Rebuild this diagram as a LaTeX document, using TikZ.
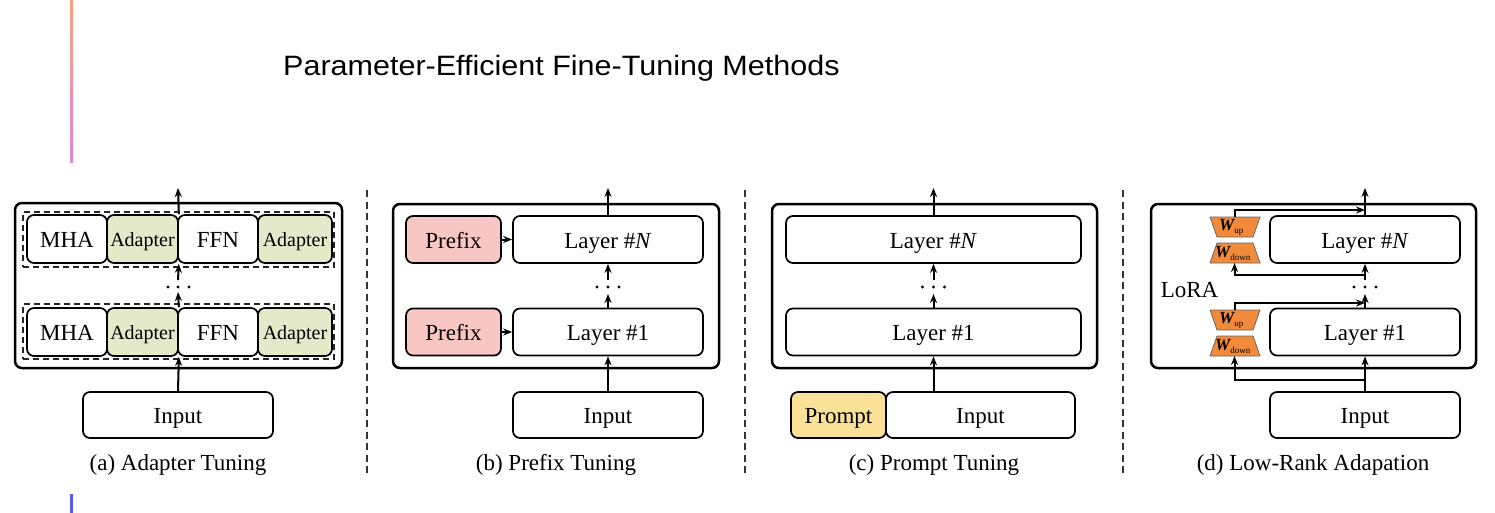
\documentclass[tikz,border=0pt]{standalone}
\usepackage{graphicx}
\usepackage{fontspec}
\setmainfont{Liberation Serif}
\newfontfamily\titlefont{Liberation Sans}
\usetikzlibrary{arrows.meta}
\definecolor{adapterc}{RGB}{227,233,201}
\definecolor{prefixc}{RGB}{248,198,195}
\definecolor{promptc}{RGB}{251,225,152}
\definecolor{loraC}{RGB}{242,138,60}
\definecolor{barTop}{RGB}{246,162,120}
\definecolor{barBot}{RGB}{218,138,214}
\definecolor{barBlue}{RGB}{92,92,245}
\begin{document}
\begin{tikzpicture}[x=1pt,y=-1pt,
  blk/.style={draw=black, line width=1.7pt, rounded corners=7pt, inner sep=0pt, minimum height=47pt, font=\fontsize{23}{26}\selectfont, text height=17pt, text depth=0pt, anchor=center, fill=white},
  smalltxt/.style={font=\fontsize{20}{22}\selectfont, text height=15pt},
  outerbox/.style={draw=black, line width=2.5pt, rounded corners=7pt, inner sep=0pt, minimum height=164pt, fill=white},
  dbox/.style={draw=black!85, line width=1.7pt, dash pattern=on 6pt off 4pt, inner sep=0pt},
  arr/.style={line width=2pt, -{Stealth[length=9pt,width=7pt]}},
  sepline/.style={draw=black!80, line width=2pt, dash pattern=on 7pt off 4.5pt},
  captxt/.style={font=\fontsize{23}{26}\selectfont, anchor=base, inner sep=0pt},
  wbox/.style={draw=black!60, line width=0.8pt, fill=loraC},
  wtxt/.style={font=\fontsize{17}{17}\selectfont\bfseries\itshape, inner sep=0pt, anchor=west},
  dotc/.style={fill=black}
]
\useasboundingbox (0,0) rectangle (1495,513);
% side bars
\shade[top color=barTop, bottom color=barBot] (70,0) rectangle (73,163);
\fill[barBlue] (70,494) rectangle (73,513);
% title
\node[anchor=base west, inner sep=0pt] (title) at (283,76) {\titlefont\fontsize{28}{30}\selectfont\scalebox{1.09}[1]{Parameter-Efficient Fine-Tuning Methods}};
% separators
\coordinate (s1t) at (367,190); \coordinate (s1b) at (367,475);
\coordinate (s2t) at (745,190); \coordinate (s2b) at (745,475);
\coordinate (s3t) at (1123,190); \coordinate (s3b) at (1123,475);
\draw[sepline] (s1t) -- (s1b);
\draw[sepline] (s2t) -- (s2b);
\draw[sepline] (s3t) -- (s3b);

% ================= (a) Adapter Tuning
\node[outerbox, minimum width=327pt, minimum height=165pt] (aO) at (178.5,285.5) {};
\node[dbox, minimum width=311pt, minimum height=55pt] (aD2) at (178.5,239.5) {};
\node[dbox, minimum width=311pt, minimum height=55pt] (aD1) at (178.5,331.5) {};
\node[blk, minimum width=80pt, minimum height=48pt] (aM2) at (67,239) {MHA};
\node[blk, minimum width=71pt, minimum height=48pt, fill=adapterc, smalltxt] (aA2) at (142.5,239) {Adapter};
\node[blk, minimum width=80pt, minimum height=48pt] (aF2) at (218,239) {FFN};
\node[blk, minimum width=74pt, minimum height=48pt, fill=adapterc, smalltxt] (aB2) at (295,239) {Adapter};
\node[blk, minimum width=80pt, minimum height=48pt] (aM1) at (67,332) {MHA};
\node[blk, minimum width=71pt, minimum height=48pt, fill=adapterc, smalltxt] (aA1) at (142.5,332) {Adapter};
\node[blk, minimum width=80pt, minimum height=48pt] (aF1) at (218,332) {FFN};
\node[blk, minimum width=74pt, minimum height=48pt, fill=adapterc, smalltxt] (aB1) at (295,332) {Adapter};
\node[blk, minimum width=190pt, minimum height=46pt] (aIn) at (178,415) {Input};
\coordinate (aU1) at (178,292);
\coordinate (aU2) at (178,280);
\coordinate (aTop) at (178,188);
\draw[arr] (aIn.north) -- (aA1.south east);
\draw[arr] (aA1.north east) -- (aU1);
\draw[arr] (aU2) -- (aA2.south east);
\draw[arr] (aA2.north east) -- (aTop);
\fill[dotc] (168,287) circle (1.6pt) (178,287) circle (1.6pt) (189,287) circle (1.6pt);
\node[captxt] (aCap) at (178,470) {(a) Adapter Tuning};

% ================= (b) Prefix Tuning
\node[outerbox, minimum width=326pt] (bO) at (556,286) {};
\node[blk, minimum width=95pt, fill=prefixc] (bP2) at (453.5,239.5) {Prefix};
\node[blk, minimum width=95pt, fill=prefixc] (bP1) at (453.5,332) {Prefix};
\node[blk, minimum width=190pt] (bL2) at (608,239.5) {Layer \#\textit{N}};
\node[blk, minimum width=190pt] (bL1) at (608,332) {Layer \#1};
\node[blk, minimum width=190pt, minimum height=46pt] (bIn) at (608,415) {Input};
\coordinate (bU1) at (608,294);
\coordinate (bU2) at (608,280);
\coordinate (bTop) at (608,188);
\draw[arr] (bP2.east) -- (bL2.west);
\draw[arr] (bP1.east) -- (bL1.west);
\draw[arr] (bIn.north) -- (bL1.south);
\draw[arr] (bL1.north) -- (bU1);
\draw[arr] (bU2) -- (bL2.south);
\draw[arr] (bL2.north) -- (bTop);
\fill[dotc] (597,287) circle (1.6pt) (608,287) circle (1.6pt) (619,287) circle (1.6pt);
\node[captxt] (bCap) at (556,470) {(b) Prefix Tuning};

% ================= (c) Prompt Tuning
\node[outerbox, minimum width=325pt] (cO) at (934.5,286) {};
\node[blk, minimum width=295pt] (cL2) at (933.5,239.5) {Layer \#\textit{N}};
\node[blk, minimum width=295pt] (cL1) at (933.5,332) {Layer \#1};
\node[blk, minimum width=95pt, minimum height=46pt, fill=promptc] (cPr) at (838.5,415) {Prompt};
\node[blk, minimum width=189pt, minimum height=46pt] (cIn) at (980.5,415) {Input};
\coordinate (cB) at (933.5,392);
\coordinate (cU1) at (933.5,294);
\coordinate (cU2) at (933.5,280);
\coordinate (cTop) at (933.5,188);
\draw[arr] (cB) -- (cL1.south);
\draw[arr] (cL1.north) -- (cU1);
\draw[arr] (cU2) -- (cL2.south);
\draw[arr] (cL2.north) -- (cTop);
\fill[dotc] (922.5,287) circle (1.6pt) (933.5,287) circle (1.6pt) (944.5,287) circle (1.6pt);
\node[captxt] (cCap) at (934,470) {(c) Prompt Tuning};

% ================= (d) Low-Rank Adaptation
\node[outerbox, minimum width=325pt] (dO) at (1313.5,286) {};
\node[blk, minimum width=190pt] (dL2) at (1365,239.5) {Layer \#\textit{N}};
\node[blk, minimum width=190pt] (dL1) at (1365,332) {Layer \#1};
\node[blk, minimum width=190pt, minimum height=46pt] (dIn) at (1365,415) {Input};
\node[font=\fontsize{23}{26}\selectfont, inner sep=0pt] (lora) at (1189.5,290) {LoRA};
% trapezoids (top pair)
\draw[wbox] (1210,217) -- (1260,217) -- (1253,237) -- (1217,237) -- cycle;
\draw[wbox] (1217,243) -- (1253,243) -- (1260,263) -- (1210,263) -- cycle;
% trapezoids (bottom pair)
\draw[wbox] (1210,310) -- (1260,310) -- (1253,330) -- (1217,330) -- cycle;
\draw[wbox] (1217,336) -- (1253,336) -- (1260,356) -- (1210,356) -- cycle;
\node[wtxt] (wu2) at (1219,227) {W\raisebox{-3pt}{\fontsize{9}{9}\selectfont\mdseries\upshape up}};
\node[wtxt] (wd2) at (1215,253) {W\raisebox{-3pt}{\fontsize{9}{9}\selectfont\mdseries\upshape down}};
\node[wtxt] (wu1) at (1219,320) {W\raisebox{-3pt}{\fontsize{9}{9}\selectfont\mdseries\upshape up}};
\node[wtxt] (wd1) at (1215,346) {W\raisebox{-3pt}{\fontsize{9}{9}\selectfont\mdseries\upshape down}};
\coordinate (wu2t) at (1234.5,217);
\coordinate (wd2b) at (1234.5,263);
\coordinate (wu1t) at (1234.5,310);
\coordinate (wd1b) at (1234.5,356);
\coordinate (dJa) at (1365,380);
\coordinate (dJb) at (1365,303);
\coordinate (dJc) at (1365,275);
\coordinate (dJd) at (1365,210);
\coordinate (dU1) at (1365,294);
\coordinate (dU2) at (1365,280);
\coordinate (dTop) at (1365,188);
\draw[arr] (dIn.north) -- (dL1.south);
\draw[arr] (dJa) -| (wd1b);
\draw[arr] (wu1t) |- (dJb);
\draw[arr] (dL1.north) -- (dU1);
\draw[arr] (dU2) -- (dL2.south);
\draw[arr] (dJc) -| (wd2b);
\draw[arr] (wu2t) |- (dJd);
\draw[arr] (dL2.north) -- (dTop);
\fill[dotc] (1354,287) circle (1.6pt) (1365,287) circle (1.6pt) (1376,287) circle (1.6pt);
\node[captxt] (dCap) at (1313,470) {(d) Low-Rank Adapation};
\end{tikzpicture}
\end{document}
